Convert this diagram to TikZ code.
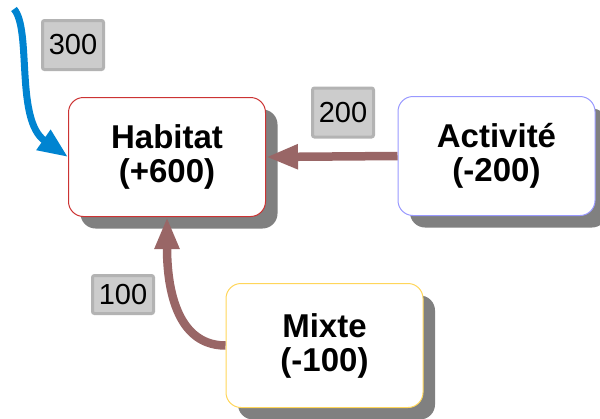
\documentclass[tikz,border=0pt]{standalone}
\usepackage{fontspec}
\setmainfont{Liberation Sans}
\usepackage{xcolor}
\usepackage{tikz}
\usetikzlibrary{arrows.meta,shadows}
\definecolor{habred}{RGB}{204,51,51}
\definecolor{actblue}{RGB}{153,153,255}
\definecolor{mixyellow}{RGB}{255,214,90}
\definecolor{flowbrown}{RGB}{153,102,102}
\definecolor{flowblue}{RGB}{0,132,209}
\definecolor{lblfill}{RGB}{204,204,204}
\definecolor{lbldraw}{RGB}{179,179,179}
\tikzset{
  zone/.style={rectangle, rounded corners=15pt, fill=white, line width=1pt, minimum width=197pt, minimum height=119pt, align=center, inner sep=0pt,
    font=\fontsize{33pt}{34pt}\selectfont\bfseries, drop shadow={fill=black!50, opacity=1, shadow xshift=12pt, shadow yshift=-12pt}},
  brownflow/.style={-{Triangle[length=32pt, width=23pt]}, line width=8.5pt, flowbrown},
  blueflow/.style={-{Triangle[length=30pt, width=23pt]}, line width=7pt, flowblue},
  qty/.style={rectangle, rounded corners=2pt, fill=lblfill, draw=lbldraw, line width=3pt, minimum width=61pt, minimum height=49pt, inner sep=0pt,
    font=\fontsize{29pt}{29pt}\selectfont},
}

\begin{document}
\begin{tikzpicture}[x=1pt, y=1pt]
\useasboundingbox (0,0) rectangle (600,-418);
\node[zone, draw=habred] (hab) at (167,-157) {Habitat\\(+600)};
\node[zone, draw=actblue] (act) at (496.5,-156) {Activité\\(-200)};
\node[zone, draw=mixyellow, minimum height=124pt] (mix) at (324.5,-345.5) {Mixte\\(-100)};
\coordinate (src) at (14,-9);
\draw[blueflow] (src) .. controls (32,-30) and (15,-120) .. (hab.west);
\draw[brownflow] (act.west) -- (hab.east);
\draw[brownflow] (mix.west) to[out=180, in=-90] (hab.south);
\node[qty] (q300) at (73,-45) {300};
\node[qty] (q200) at (343,-112.5) {200};
\node[qty, minimum height=38pt] (q100) at (123,-294.5) {100};
\end{tikzpicture}
\end{document}
